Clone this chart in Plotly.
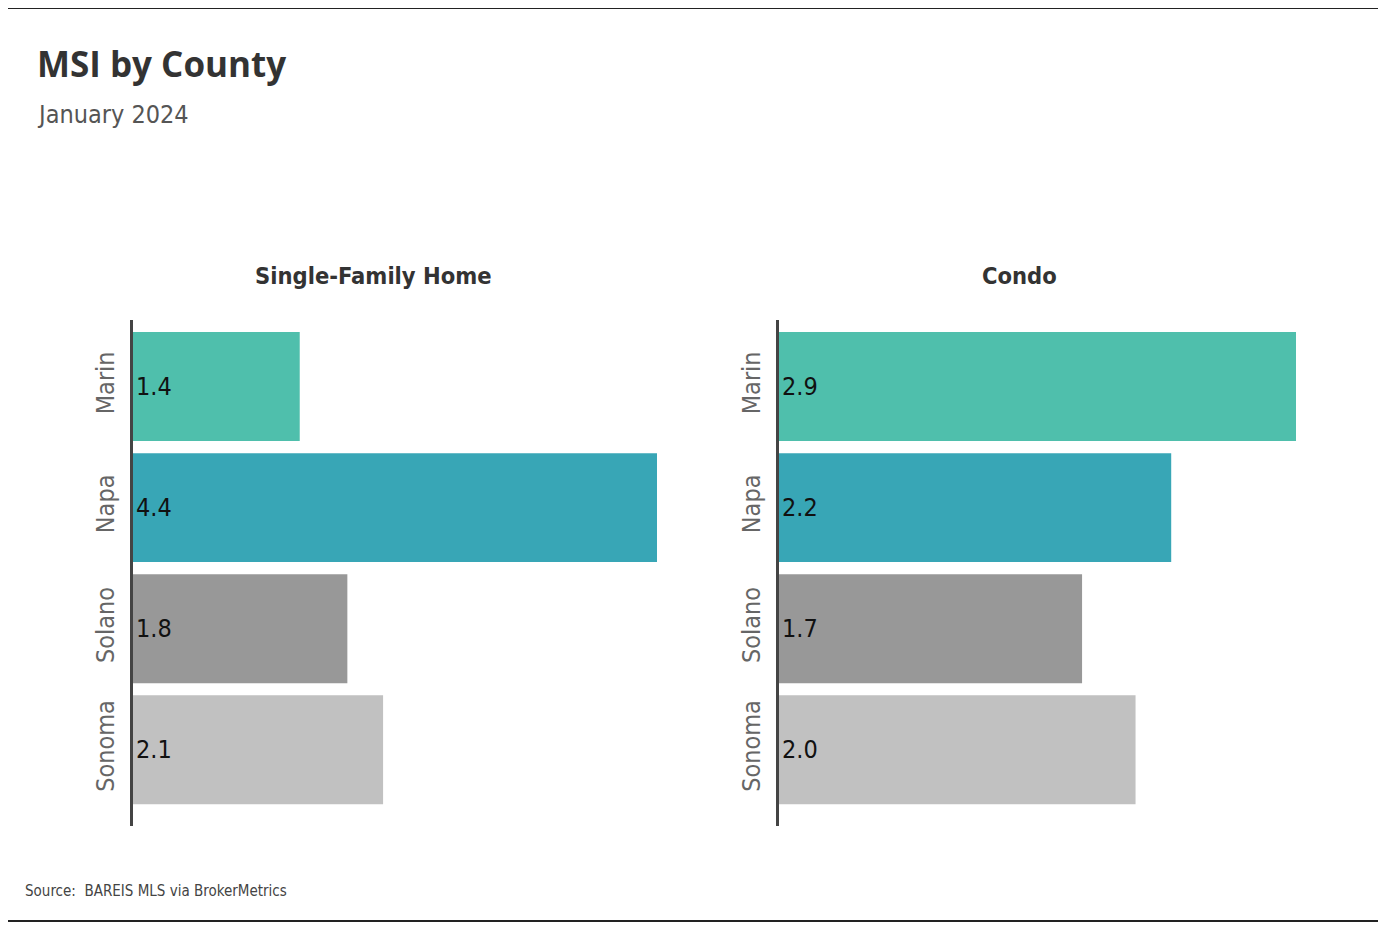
import plotly.graph_objects as go

counties = ["Marin", "Napa", "Solano", "Sonoma"]
sfh_values = [1.4, 4.4, 1.8, 2.1]
condo_values = [2.9, 2.2, 1.7, 2.0]
bar_colors = ["#4FBFAC", "#38A6B6", "#989898", "#C1C1C1"]
panel_titles = ["Single-Family Home", "Condo"]

W, H = 1388, 932
OFF = 8  # page offset of the rendered figure
ML = 133 - OFF
MT = 320 - OFF
MR = W - (1296 - OFF)
MB = H - (826 - OFF)
PW = W - ML - MR
PH = H - MT - MB

def px_x(x):
    return (x - OFF - ML) / PW

def px_y(y):
    return 1 + (MT - (y - OFF)) / PH

NARROW = "Liberation Sans Narrow, DejaVu Sans Condensed, Arial Narrow, sans-serif"
TITLEF = "Open Sans, Noto Sans, sans-serif"

fig = go.Figure()
fig.add_trace(go.Bar(
    y=counties, x=sfh_values, orientation="h",
    marker=dict(color=bar_colors, line=dict(width=0)),
    text=[f"{v:.1f}" for v in sfh_values], textposition="inside",
    insidetextanchor="start", textangle=0,
    textfont=dict(family=NARROW, size=25, color="#111"),
    xaxis="x", yaxis="y", showlegend=False, hoverinfo="skip",
))
fig.add_trace(go.Bar(
    y=counties, x=condo_values, orientation="h",
    marker=dict(color=bar_colors, line=dict(width=0)),
    text=[f"{v:.1f}" for v in condo_values], textposition="inside",
    insidetextanchor="start", textangle=0,
    textfont=dict(family=NARROW, size=25, color="#111"),
    xaxis="x2", yaxis="y2", showlegend=False, hoverinfo="skip",
))

yaxis_common = dict(
    type="category", categoryorder="array", categoryarray=counties,
    range=[3.63, -0.55], showline=True, linecolor="#444", linewidth=3,
    ticks="", tickangle=-90, showgrid=False, zeroline=False,
    ticklabelstandoff=6,
    tickfont=dict(family=NARROW, size=25, color="#666"),
)
xaxis_common = dict(showline=False, showgrid=False, zeroline=False,
                    showticklabels=False, ticks="")

fig.update_layout(
    width=W, height=H,
    margin=dict(l=ML, r=MR, t=MT, b=MB),
    paper_bgcolor="white", plot_bgcolor="white",
    bargap=0.1,
    xaxis=dict(domain=[0, px_x(657)], range=[0, max(sfh_values)], anchor="y", **xaxis_common),
    xaxis2=dict(domain=[px_x(779), 1.0], range=[0, max(condo_values)], anchor="y2", **xaxis_common),
    yaxis=dict(anchor="x", **yaxis_common),
    yaxis2=dict(anchor="x2", **yaxis_common),
)

annotations = [
    dict(text="<b>MSI by County</b>", x=px_x(35), y=px_y(63), xanchor="left", yanchor="middle",
         font=dict(family=TITLEF, size=35, color="#333")),
    dict(text="January 2024", x=px_x(35), y=px_y(115), xanchor="left", yanchor="middle",
         font=dict(family=NARROW, size=25, color="#555")),
    dict(text="<b>" + panel_titles[0] + "</b>", x=px_x(373), y=px_y(276), xanchor="center", yanchor="middle",
         font=dict(family=NARROW, size=23.5, color="#333")),
    dict(text="<b>" + panel_titles[1] + "</b>", x=px_x(1019), y=px_y(276), xanchor="center", yanchor="middle",
         font=dict(family=NARROW, size=23.5, color="#333")),
    dict(text="Source:  BAREIS MLS via BrokerMetrics", x=px_x(23), y=px_y(891), xanchor="left", yanchor="middle",
         font=dict(family=NARROW, size=15, color="#444")),
]
for a in annotations:
    a.update(xref="paper", yref="paper", showarrow=False)
fig.update_layout(annotations=annotations)

fig.add_shape(type="line", xref="paper", yref="paper", x0=px_x(8), x1=px_x(1378), y0=px_y(8), y1=px_y(8),
              line=dict(color="#222", width=2))
fig.add_shape(type="line", xref="paper", yref="paper", x0=px_x(8), x1=px_x(1378), y0=px_y(921), y1=px_y(921),
              line=dict(color="#222", width=2))

fig.write_html("out.html")
